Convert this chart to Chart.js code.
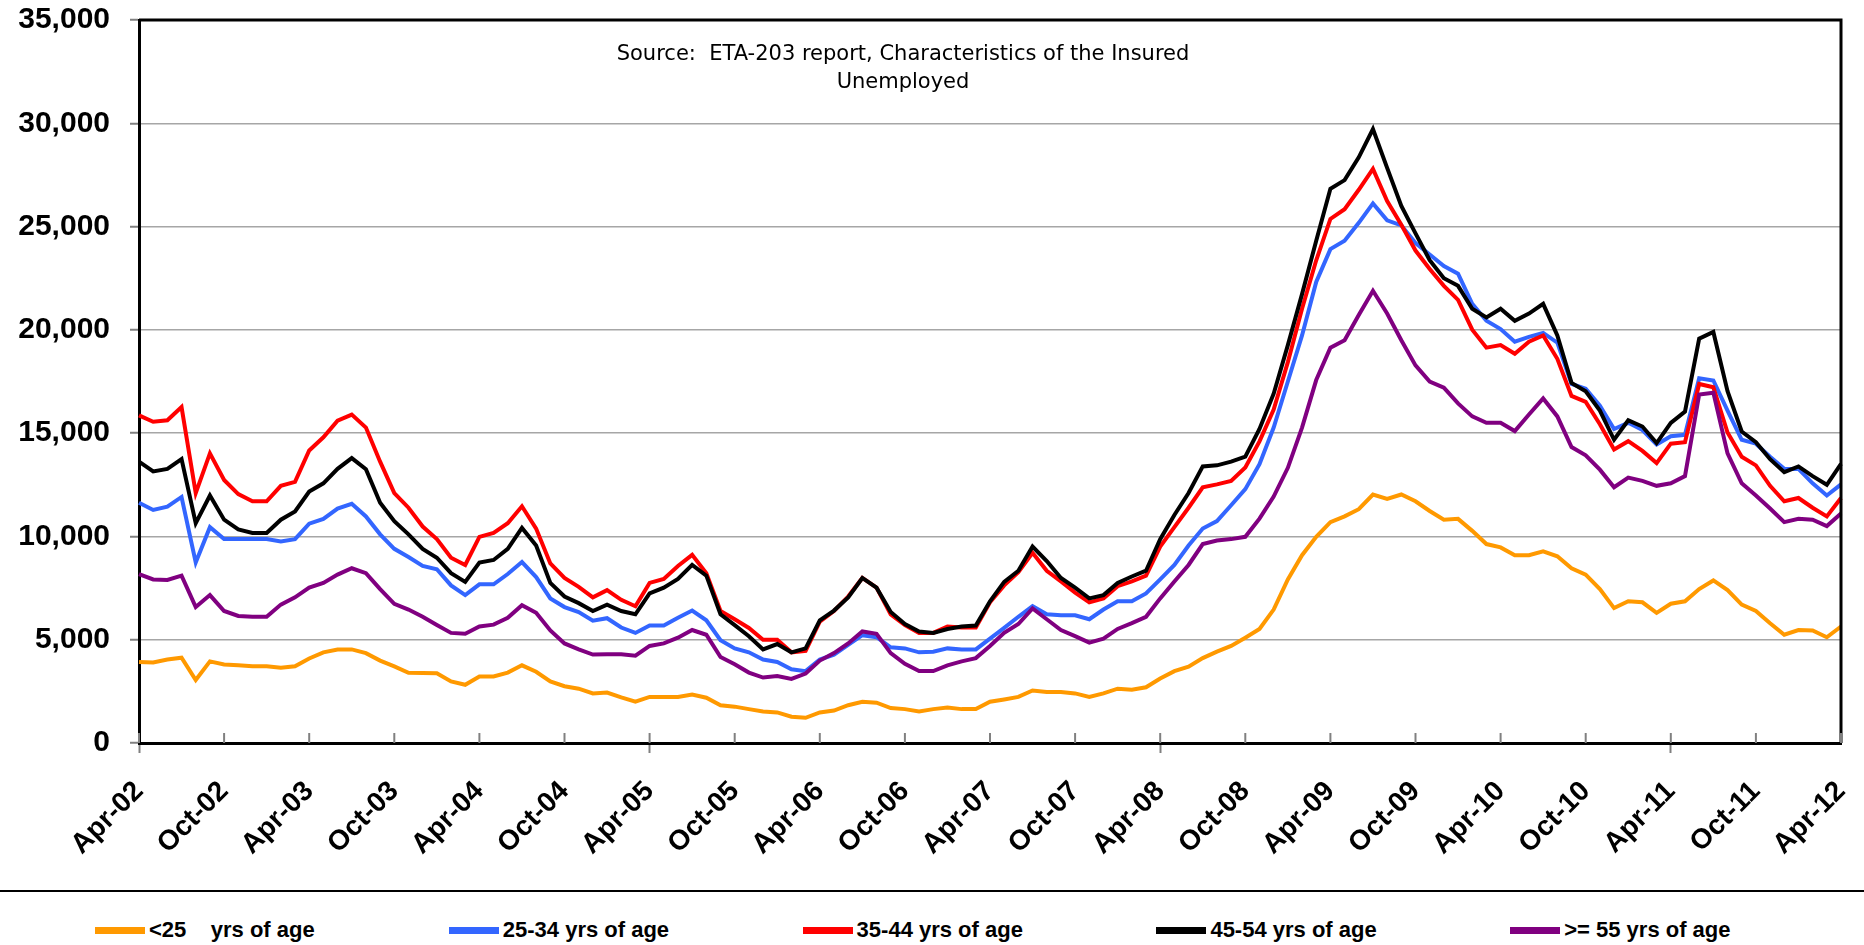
<!DOCTYPE html>
<html lang="en">
<head>
    <meta charset="UTF-8">
    <title>Insured Unemployed by Age</title>
    <style>
        html, body {
            margin: 0;
            padding: 0;
            background: #fff;
        }
        #wrap {
            width: 1864px;
            height: 890px;
        }
        .legend {
            width: 1864px;
            height: 53px;
            border-top: 2px solid #000;
            display: flex;
            padding: 25px 0 0 95px;
            box-sizing: border-box;
            font-family: "Liberation Sans", Arial, sans-serif;
            font-weight: bold;
            font-size: 22px;
            line-height: 22px;
        }
        .legend .item {
            width: 361px;
            display: flex;
            align-items: center;
            white-space: pre;
        }
        .legend .swatch {
            width: 50px;
            height: 7px;
            margin-right: 4px;
        }
    </style>
</head>
<body>
    <div id="wrap">
        <canvas id="ageChart" width="1864" height="890"></canvas>
    </div>
    <div class="legend" id="legend"></div>

    <script src="https://cdn.jsdelivr.net/npm/chart.js"></script>
    <script>
        // month labels Apr-02 .. Apr-12
        const monthNames = ['Jan', 'Feb', 'Mar', 'Apr', 'May', 'Jun', 'Jul', 'Aug', 'Sep', 'Oct', 'Nov', 'Dec'];
        const months = [];
        for (let k = 3; k <= 123; k++) {
            const yr = 2 + Math.floor(k / 12);
            months.push(monthNames[k % 12] + '-' + String(yr).padStart(2, '0'));
        }

        const seriesNames = ['<25    yrs of age', '25-34 yrs of age', '35-44 yrs of age', '45-54 yrs of age', '>= 55 yrs of age'];
        const seriesColors = ['#FF9900', '#3366FF', '#FF0000', '#000000', '#800080'];

        const under25 = [
            3920, 3900, 4040, 4130, 3050, 3950, 3800, 3760, 3710, 3710, 3640, 3710, 4090, 4390, 4530, 4530, 4350, 3990, 3710, 3400, 3390,
            3380, 2980, 2820, 3220, 3220, 3410, 3760, 3450, 2980, 2750, 2630, 2400, 2440, 2210, 2000, 2230, 2230, 2230, 2350,
            2190, 1830, 1760, 1640, 1530, 1480, 1270, 1220, 1480, 1570, 1830, 2000, 1950, 1690, 1640, 1530, 1640, 1720, 1640, 1640,
            2000, 2110, 2230, 2540, 2470, 2470, 2400, 2230, 2400, 2630, 2580, 2700, 3120, 3480, 3690, 4110, 4420, 4700, 5100, 5520,
            6460, 7920, 9090, 9980, 10690, 10970, 11320, 12030, 11820, 12030, 11700, 11230, 10810, 10850, 10270, 9630, 9470, 9090, 9090, 9280,
            9040, 8460, 8150, 7450, 6530, 6860, 6810, 6300, 6740, 6860, 7450, 7870, 7400, 6700, 6390, 5800, 5240, 5470, 5450, 5120, 5640
        ];
        const age25to34 = [
            11630, 11280, 11440, 11910, 8740, 10450, 9870, 9870, 9870, 9870, 9750, 9870, 10620, 10850, 11350, 11580, 10970, 10100, 9400, 9000, 8570,
            8410, 7630, 7160, 7680, 7680, 8180, 8760, 8030, 7000, 6580, 6340, 5920, 6040, 5590, 5330, 5690, 5690, 6060, 6410,
            5940, 4980, 4580, 4390, 4040, 3920, 3570, 3480, 4040, 4280, 4750, 5220, 5120, 4630, 4580, 4390, 4420, 4580, 4530, 4530,
            5050, 5570, 6110, 6620, 6230, 6180, 6180, 5990, 6460, 6860, 6860, 7240, 7920, 8620, 9560, 10380, 10740, 11510, 12290, 13500,
            15270, 17500, 19730, 22320, 23910, 24310, 25180, 26120, 25300, 25060, 24200, 23650, 23090, 22720, 21260, 20440, 20040, 19430, 19660, 19850,
            19380, 17380, 17150, 16330, 15200, 15500, 15150, 14450, 14850, 14920, 17660, 17550, 16090, 14680, 14490, 13860, 13270, 13270, 12570, 11980, 12520
        ];
        const age35to44 = [
            15860, 15550, 15620, 16260, 12100, 14020, 12730, 12050, 11700, 11700, 12450, 12640, 14160, 14800, 15600, 15900, 15270, 13620, 12100, 11390, 10480,
            9870, 8970, 8620, 9980, 10170, 10640, 11460, 10380, 8690, 7990, 7560, 7050, 7400, 6930, 6620, 7750, 7940, 8570, 9110,
            8220, 6390, 5990, 5570, 5000, 5000, 4390, 4460, 5870, 6390, 7090, 7990, 7520, 6230, 5710, 5330, 5330, 5640, 5590, 5590,
            6810, 7630, 8270, 9210, 8340, 7820, 7280, 6810, 7000, 7590, 7820, 8100, 9510, 10450, 11390, 12380, 12520, 12690, 13340, 14600,
            16140, 18440, 21020, 23370, 25370, 25840, 26780, 27790, 26240, 25090, 23840, 22950, 22130, 21450, 20010, 19140, 19260, 18840, 19430, 19730,
            18600, 16800, 16510, 15430, 14210, 14610, 14140, 13550, 14490, 14560, 17380, 17220, 15030, 13860, 13440, 12450, 11700, 11860, 11390, 10970, 11860
        ];
        const age45to54 = [
            13620, 13150, 13270, 13740, 10640, 11980, 10810, 10340, 10170, 10170, 10810, 11210, 12170, 12570, 13270, 13790, 13250, 11630, 10740, 10100, 9400,
            8970, 8220, 7800, 8740, 8860, 9400, 10410, 9560, 7750, 7090, 6770, 6390, 6700, 6390, 6230, 7240, 7520, 7940, 8620,
            8100, 6230, 5710, 5170, 4530, 4790, 4390, 4580, 5940, 6410, 7050, 7990, 7520, 6340, 5760, 5400, 5330, 5520, 5640, 5690,
            6860, 7800, 8340, 9510, 8810, 7990, 7520, 7000, 7160, 7750, 8060, 8340, 9870, 11040, 12100, 13390, 13440, 13620, 13860, 15200,
            16910, 19260, 21730, 24310, 26830, 27250, 28350, 29720, 27840, 26000, 24670, 23370, 22500, 22130, 21020, 20600, 21020, 20440, 20790, 21260,
            19730, 17430, 17030, 16090, 14680, 15620, 15320, 14520, 15500, 16040, 19570, 19900, 17030, 15080, 14560, 13740, 13110, 13390, 12920, 12500, 13510
        ];
        const age55plus = [
            8180, 7920, 7890, 8100, 6580, 7160, 6390, 6150, 6110, 6110, 6700, 7050, 7520, 7750, 8150, 8460, 8220, 7450, 6740, 6460, 6110,
            5710, 5330, 5290, 5640, 5730, 6060, 6670, 6300, 5450, 4820, 4530, 4280, 4300, 4300, 4230, 4700, 4820, 5100, 5470,
            5240, 4160, 3810, 3410, 3170, 3240, 3100, 3360, 3990, 4350, 4820, 5400, 5290, 4350, 3830, 3480, 3480, 3760, 3950, 4110,
            4700, 5330, 5760, 6510, 5990, 5470, 5170, 4860, 5050, 5520, 5800, 6110, 7000, 7820, 8620, 9630, 9800, 9870, 9980, 10860,
            11930, 13320, 15270, 17570, 19140, 19500, 20720, 21890, 20790, 19500, 18280, 17500, 17200, 16440, 15810, 15500, 15500, 15100, 15900, 16680,
            15810, 14330, 13930, 13230, 12380, 12850, 12690, 12450, 12570, 12920, 16870, 16960, 14020, 12570, 11980, 11350, 10690, 10850, 10810, 10500, 11110
        ];

        const yTicks = [0, 5000, 10000, 15000, 20000, 25000, 30000, 35000];
        const sourceLines = ['Source:  ETA-203 report, Characteristics of the Insured', 'Unemployed'];

        const allSeries = [under25, age25to34, age35to44, age45to54, age55plus];
        const FONT = '"Liberation Sans", Arial, sans-serif';

        // frame, inner x ticks and the source note
        const extras = {
            id: 'extras',
            afterDraw(chart) {
                const {ctx, chartArea} = chart;
                const x = chart.scales.x;
                ctx.save();
                ctx.strokeStyle = '#000';
                ctx.lineWidth = 3;
                ctx.beginPath();
                ctx.moveTo(chartArea.left, chartArea.top);
                ctx.lineTo(chartArea.right, chartArea.top);
                ctx.lineTo(chartArea.right, chartArea.bottom);
                ctx.stroke();

                ctx.strokeStyle = '#808080';
                ctx.lineWidth = 2;
                for (let i = 0; i < months.length; i += 6) {
                    const px = x.getPixelForValue(i);
                    ctx.beginPath();
                    ctx.moveTo(px, chartArea.bottom - 10);
                    ctx.lineTo(px, chartArea.bottom);
                    ctx.stroke();
                }

                ctx.fillStyle = '#000';
                ctx.font = '21px "DejaVu Sans", Verdana, sans-serif';
                ctx.textAlign = 'center';
                ctx.textBaseline = 'middle';
                ctx.fillText(sourceLines[0], 903, 55);
                ctx.fillText(sourceLines[1], 903, 83);
                ctx.restore();
            }
        };

        const chart = new Chart(document.getElementById('ageChart'), {
            type: 'line',
            data: {
                labels: months,
                datasets: seriesNames.map((name, i) => ({
                    label: name,
                    data: allSeries[i],
                    borderColor: seriesColors[i],
                    backgroundColor: seriesColors[i],
                    borderWidth: 4,
                    pointRadius: 0,
                    tension: 0,
                    fill: false,
                    order: 5 - i
                }))
            },
            options: {
                responsive: false,
                animation: false,
                layout: {
                    padding: {left: 0, right: 23, top: 20, bottom: 0}
                },
                plugins: {
                    tooltip: {enabled: false},
                    legend: {display: false}
                },
                scales: {
                    x: {
                        type: 'category',
                        afterFit: scale => {
                            scale.height = 147;
                            scale.paddingLeft = 0;
                            scale.paddingRight = 0;
                        },
                        grid: {
                            drawOnChartArea: false,
                            tickLength: 10,
                            tickWidth: 2,
                            tickColor: ctx => ctx.index % 6 === 0 ? '#808080' : 'rgba(0,0,0,0)'
                        },
                        border: {color: '#000', width: 3},
                        ticks: {
                            autoSkip: false,
                            maxRotation: 45,
                            minRotation: 45,
                            padding: 22,
                            color: '#000',
                            font: {family: FONT, size: 28, weight: 'bold'},
                            callback: (val, idx) => idx % 6 === 0 ? months[idx] : null
                        }
                    },
                    y: {
                        min: 0,
                        max: 35000,
                        afterFit: scale => {
                            scale.width = 139;
                            scale.paddingTop = 0;
                            scale.paddingBottom = 0;
                        },
                        afterBuildTicks: scale => { scale.ticks = yTicks.map(v => ({value: v})); },
                        grid: {
                            color: '#a6a6a6',
                            lineWidth: 1.5,
                            tickLength: 9,
                            tickColor: '#808080',
                            tickWidth: 2
                        },
                        border: {color: '#000', width: 3},
                        ticks: {
                            padding: 20,
                            color: '#000',
                            font: {family: FONT, size: 30, weight: 'bold'},
                            callback: v => v.toLocaleString('en-US')
                        }
                    }
                }
            },
            plugins: [extras]
        });

        // legend below the separator, built from the datasets
        const legendEl = document.getElementById('legend');
        chart.data.datasets.forEach(ds => {
            const item = document.createElement('div');
            item.className = 'item';
            const sw = document.createElement('span');
            sw.className = 'swatch';
            sw.style.background = ds.borderColor;
            const txt = document.createElement('span');
            txt.textContent = ds.label;
            item.appendChild(sw);
            item.appendChild(txt);
            legendEl.appendChild(item);
        });
    </script>
</body>
</html>
